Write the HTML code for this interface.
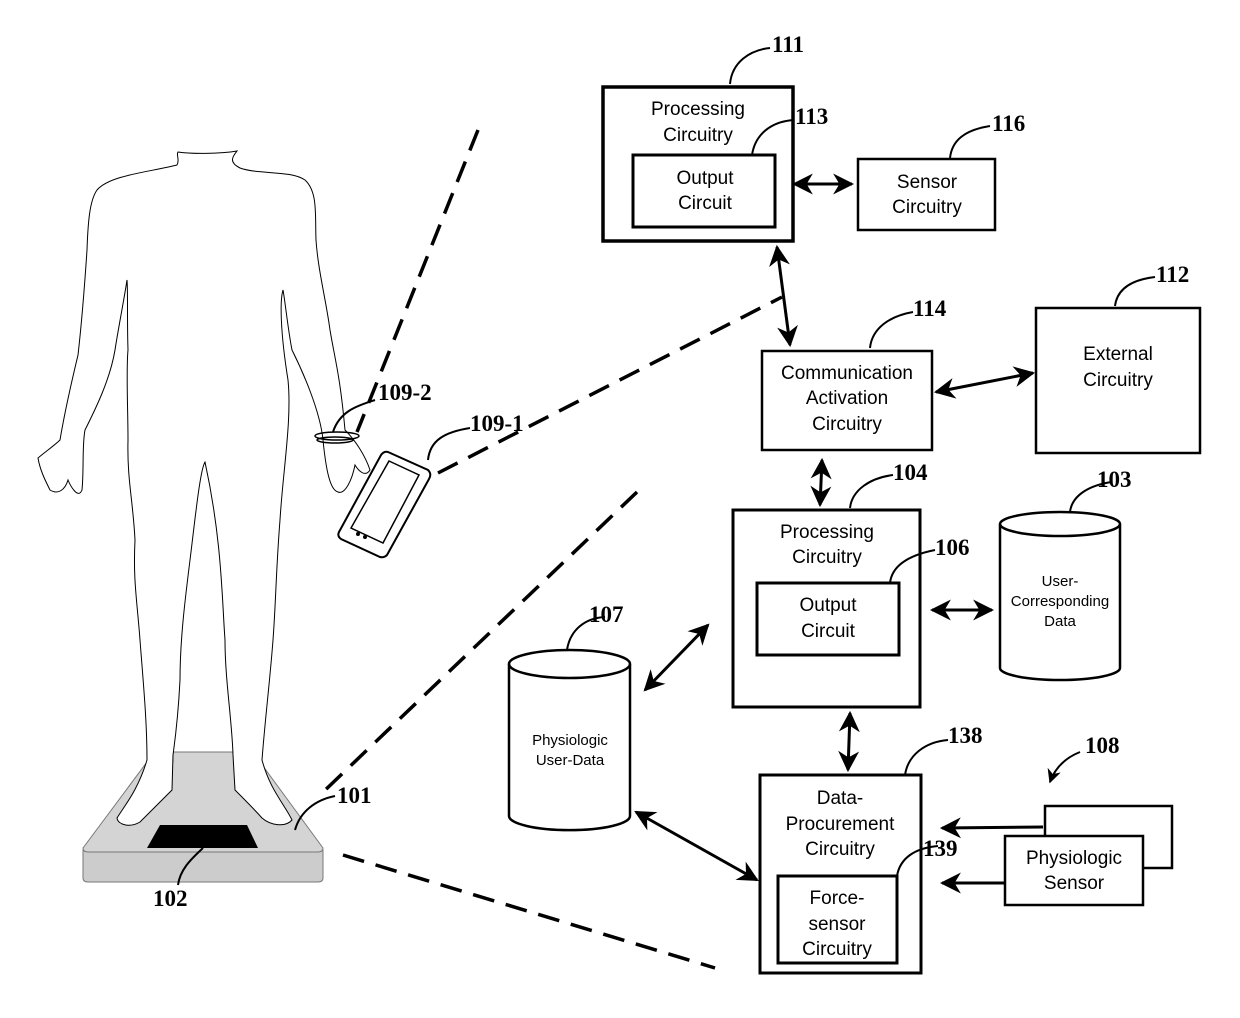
<!DOCTYPE html>
<html><head><meta charset="utf-8"><style>
html,body{margin:0;padding:0;background:#fff}
svg{display:block}
.t{font-family:"Liberation Sans",sans-serif;font-size:19px;text-anchor:middle;fill:#000}
.s{font-family:"Liberation Sans",sans-serif;font-size:15px;text-anchor:middle;fill:#000}
.l{font-family:"Liberation Serif",serif;font-size:23px;font-weight:bold;fill:#000}
</style></head><body>
<svg width="1240" height="1018" viewBox="0 0 1240 1018" xmlns="http://www.w3.org/2000/svg">
<defs>
<marker id="a" viewBox="0 0 10 10" refX="9" refY="5" markerWidth="7" markerHeight="7" orient="auto-start-reverse"><path d="M0,0 L10,5 L0,10 L3,5 z" fill="#000"/></marker>
</defs>
<g fill="none" stroke="#000">
<!-- dashed lines -->
<g stroke-width="3.5" stroke-dasharray="22,12">
<line x1="478" y1="130" x2="357" y2="432"/>
<line x1="438" y1="473" x2="782" y2="297"/>
<line x1="637" y1="492" x2="320" y2="795"/>
<line x1="343" y1="855" x2="715" y2="968"/>
</g>
<!-- scale -->
<path d="M83,850 L83,878 Q83,882 88,882 L318,882 Q323,882 323,878 L323,850 Z" fill="#ccc" stroke="#777" stroke-width="1"/>
<path d="M83,848 L147,762 L173,762 L173,752 L235,752 L235,762 L260,762 L323,848 Q323,852 318,852 L88,852 Q83,852 83,848 Z" fill="#d4d4d4" stroke="#777" stroke-width="1"/>
<polygon points="160,825 247,825 258,848 147,848" fill="#000" stroke="none"/>
<!-- body -->
<path stroke-width="1" fill="#fff" d="M177,165 C180,160 176,155 178,152 C190,154 220,154 237,151 C233,156 228,162 240,168 C260,175 290,170 305,180 C318,192 315,215 316,240 C318,270 326,300 330,330 C335,360 340,375 345,430 C355,440 365,455 370,470 C365,478 358,470 355,465 C352,480 345,495 338,492 C330,490 326,470 323,440 C320,410 302,370 292,350 C288,330 285,300 283,290 C280,300 280,330 288,380 C292,420 283,470 280,520 C276,570 276,600 273,640 C270,680 265,720 262,760 C270,790 285,805 292,820 C285,828 270,825 262,818 C255,810 245,800 235,790 L233,755 C232,720 225,680 225,640 C222,600 222,540 205,462 C200,470 195,520 190,560 C185,600 180,640 180,680 C178,720 175,740 173,755 L172,790 C162,800 150,812 140,822 C130,828 118,825 117,818 C125,805 138,790 147,760 C147,720 143,680 140,640 C137,600 133,580 135,540 C133,500 127,480 128,440 C128,410 126,370 128,350 C127,320 128,290 127,280 C124,300 118,330 115,350 C110,380 95,410 85,430 C82,445 84,470 82,490 C78,500 70,485 68,480 C65,490 58,495 50,490 C45,480 40,470 38,458 C45,452 55,445 60,440 C65,410 72,380 78,355 C82,320 85,280 87,250 C88,220 90,200 97,190 C110,175 150,172 177,165 Z"/>
<!-- bracelet -->
<ellipse cx="337" cy="436" rx="22" ry="4" stroke-width="1.5"/>
<ellipse cx="335" cy="440" rx="18" ry="3" stroke-width="1.5"/>
<!-- phone -->
<path d="M388,452 L428,470 Q432,474 429,479 L387,555 Q384,558 380,557 L341,539 Q337,536 339,532 L381,455 Q384,451 388,452 Z" stroke-width="2" fill="#fff"/>
<path d="M389,461 L419,475 L383,543 L351,528 Z" stroke-width="1.5"/>
<circle cx="358" cy="534" r="1.5" fill="#000"/><circle cx="365" cy="537" r="1.5" fill="#000"/>
<!-- leaders -->
<g stroke-width="2">
<path d="M333,432 C340,410 360,405 375,400"/>
<path d="M428,460 C430,440 445,432 470,428"/>
<path d="M295,830 C300,812 315,800 335,796"/>
<path d="M203,848 C190,860 180,870 178,885"/>
<path d="M730,84 C732,62 750,50 770,48"/>
<path d="M752,155 C755,135 770,122 793,120"/>
<path d="M950,158 C952,140 965,130 990,126"/>
<path d="M870,348 C872,328 890,316 913,312"/>
<path d="M1115,306 C1117,290 1130,280 1155,277"/>
<path d="M850,508 C852,490 870,478 893,475"/>
<path d="M890,583 C892,565 910,555 935,550"/>
<path d="M1070,512 C1072,495 1090,485 1112,482"/>
<path d="M567,650 C570,630 585,618 605,617"/>
<path d="M905,775 C908,755 925,742 948,740"/>
<path d="M897,876 C900,858 915,848 938,846"/>
<path d="M1080,752 C1065,758 1055,768 1050,782" marker-end="url(#a)"/>
</g>
<!-- boxes -->
<rect x="603" y="87" width="190" height="154" stroke-width="3.5"/>
<rect x="633" y="155" width="142" height="72" stroke-width="3"/>
<rect x="858" y="159" width="137" height="71" stroke-width="2.5"/>
<rect x="762" y="351" width="170" height="99" stroke-width="2.5"/>
<rect x="1036" y="308" width="164" height="145" stroke-width="2.5"/>
<rect x="733" y="510" width="187" height="197" stroke-width="3"/>
<rect x="757" y="583" width="142" height="72" stroke-width="3"/>
<rect x="760" y="775" width="161" height="198" stroke-width="3"/>
<rect x="778" y="876" width="119" height="87" stroke-width="3"/>
<rect x="1045" y="806" width="127" height="62" stroke-width="2.5"/>
<rect x="1005" y="836" width="138" height="69" stroke-width="2.5" fill="#fff"/>
<!-- cylinders -->
<path d="M1000,524 L1000,668 A60,12 0 0 0 1120,668 L1120,524" stroke-width="2.5"/>
<ellipse cx="1060" cy="524" rx="60" ry="12" stroke-width="2.5"/>
<path d="M509,664 L509,816 A60,14 0 0 0 630,816 L630,664" stroke-width="2.5"/>
<ellipse cx="569.5" cy="664" rx="60.5" ry="14" stroke-width="2.5"/>
<!-- arrows -->
<g stroke-width="3" marker-start="url(#a)" marker-end="url(#a)">
<line x1="794" y1="184" x2="852" y2="184"/>
<line x1="777" y1="247" x2="790" y2="345"/>
<line x1="936" y1="392" x2="1033" y2="373"/>
<line x1="822" y1="460" x2="820" y2="505"/>
<line x1="932" y1="610" x2="992" y2="610"/>
<line x1="645" y1="690" x2="708" y2="625"/>
<line x1="850" y1="713" x2="848" y2="770"/>
<line x1="636" y1="812" x2="757" y2="880"/>
</g>
<g stroke-width="3" marker-end="url(#a)">
<line x1="1043" y1="827" x2="942" y2="828"/>
<line x1="1004" y1="883" x2="942" y2="883"/>
</g>
</g>
<!-- text -->
<text class="t" x="698" y="115">Processing</text><text class="t" x="698" y="141">Circuitry</text>
<text class="t" x="705" y="184">Output</text><text class="t" x="705" y="209">Circuit</text>
<text class="t" x="927" y="188">Sensor</text><text class="t" x="927" y="213">Circuitry</text>
<text class="t" x="847" y="379">Communication</text><text class="t" x="847" y="404">Activation</text><text class="t" x="847" y="430">Circuitry</text>
<text class="t" x="1118" y="360">External</text><text class="t" x="1118" y="386">Circuitry</text>
<text class="t" x="827" y="538">Processing</text><text class="t" x="827" y="563">Circuitry</text>
<text class="t" x="828" y="611">Output</text><text class="t" x="828" y="637">Circuit</text>
<text class="s" x="1060" y="586">User-</text><text class="s" x="1060" y="606">Corresponding</text><text class="s" x="1060" y="626">Data</text>
<text class="s" x="570" y="745">Physiologic</text><text class="s" x="570" y="765">User-Data</text>
<text class="t" x="840" y="804">Data-</text><text class="t" x="840" y="830">Procurement</text><text class="t" x="840" y="855">Circuitry</text>
<text class="t" x="837" y="904">Force-</text><text class="t" x="837" y="930">sensor</text><text class="t" x="837" y="955">Circuitry</text>
<text class="t" x="1074" y="864">Physiologic</text><text class="t" x="1074" y="889">Sensor</text>
<text class="l" x="772" y="52">111</text>
<text class="l" x="795" y="124">113</text>
<text class="l" x="992" y="131">116</text>
<text class="l" x="913" y="316">114</text>
<text class="l" x="1156" y="282">112</text>
<text class="l" x="893" y="480">104</text>
<text class="l" x="935" y="555">106</text>
<text class="l" x="1097" y="487">103</text>
<text class="l" x="589" y="622">107</text>
<text class="l" x="948" y="743">138</text>
<text class="l" x="1085" y="753">108</text>
<text class="l" x="923" y="856">139</text>
<text class="l" x="378" y="400">109-2</text>
<text class="l" x="470" y="431">109-1</text>
<text class="l" x="337" y="803">101</text>
<text class="l" x="153" y="906">102</text>
</svg>
</body></html>
